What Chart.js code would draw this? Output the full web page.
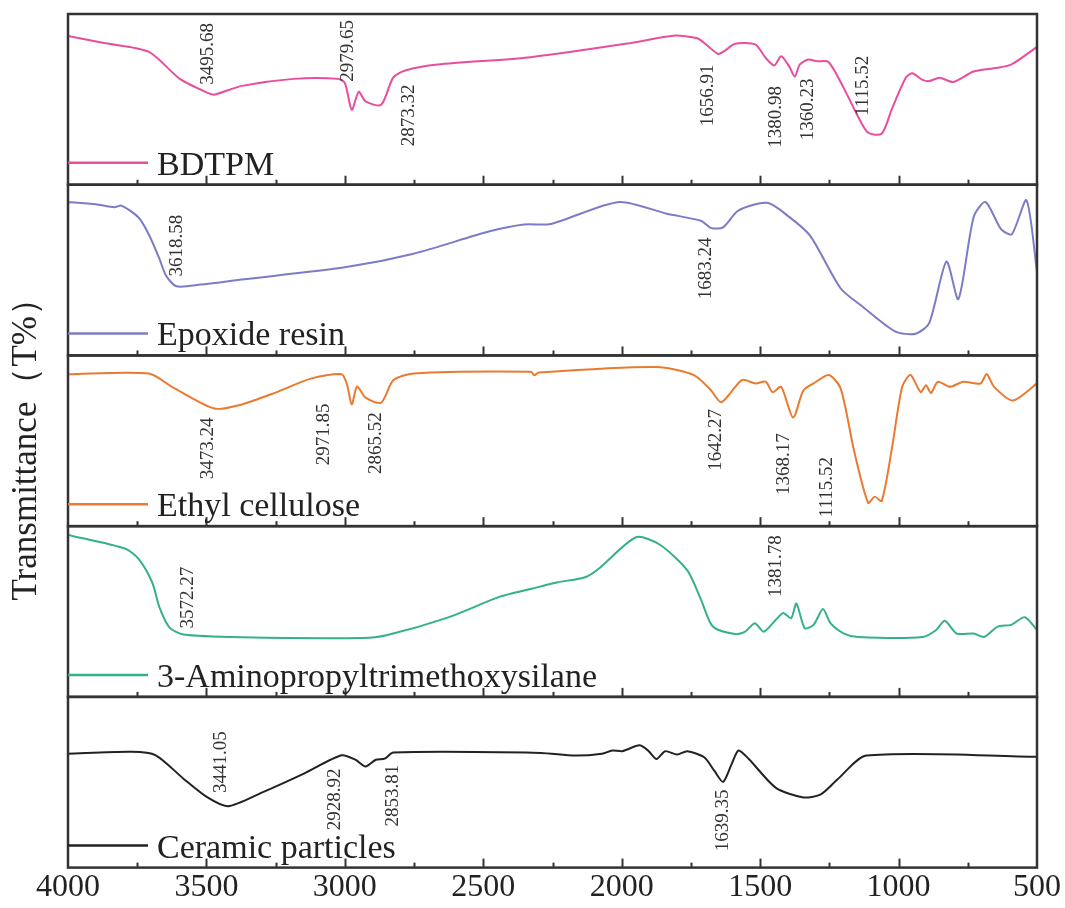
<!DOCTYPE html>
<html>
<head>
<meta charset="utf-8">
<script src="https://cdn.jsdelivr.net/npm/chart.js@4.4.1/dist/chart.umd.min.js"></script>
<style>
  html, body { margin: 0; padding: 0; background: #fff; }
  #wrap { width: 1065px; height: 908px; }
</style>
</head>
<body>
<div id="wrap"><canvas id="myChart"></canvas></div>
<script>
// spectra (wavenumber in cm-1, relative transmittance 0-100 in each panel)
const bdtpmWn = [4000, 3870, 3708, 3596, 3495, 3470, 3372, 3185, 3024, 3000, 2975, 2950, 2925, 2869, 2825, 2782, 2665, 2329, 1960, 1813, 1727, 1689, 1652, 1628, 1591, 1518, 1480, 1449, 1424, 1395, 1375, 1357, 1327, 1295, 1253, 1197, 1148, 1110, 1061, 1024, 975, 951, 913, 889, 852, 803, 729, 656, 594, 500];
const bdtpmT = [87.1, 83, 77.8, 62, 53.8, 52.8, 57.9, 62, 62, 59.6, 43.9, 54.4, 48.8, 46.8, 62.9, 66.9, 70.4, 74.7, 83.2, 87.3, 85.8, 81.3, 76.6, 78.4, 82.6, 82.2, 74.3, 69.9, 75.3, 69.3, 63.3, 70.3, 73.3, 72.3, 71.9, 56.3, 40.4, 30.4, 29.9, 44.4, 62.3, 65.3, 61.4, 60.7, 62.7, 60.2, 66.3, 68.2, 70.3, 80.7];

const epoxyWn = [4000, 3993, 3900, 3832, 3807, 3745, 3708, 3670, 3645, 3608, 3521, 3372, 3000, 2752, 2477, 2353, 2256, 2010, 1837, 1714, 1676, 1634, 1578, 1474, 1394, 1319, 1209, 1135, 1013, 938, 889, 827, 784, 729, 686, 630, 591, 538, 500];
const epoxyT = [89, 89.8, 88.5, 86.8, 87.8, 80.8, 70.8, 56.7, 46.5, 40.5, 41.5, 44.5, 51.6, 59.6, 72.7, 76.7, 77, 89.9, 83, 78.9, 74.6, 75, 85, 89.4, 81, 70, 39.2, 29.2, 14.1, 12.7, 19.1, 55, 33, 81, 89.9, 74, 71, 90.9, 49.1];

const ethylWn = [4000, 3708, 3621, 3471, 3372, 3248, 3123, 3012, 2993, 2975, 2956, 2925, 2869, 2825, 2752, 2328, 2316, 2300, 1874, 1739, 1677, 1640, 1566, 1517, 1480, 1455, 1424, 1381, 1344, 1307, 1252, 1209, 1160, 1110, 1086, 1061, 1024, 987, 957, 920, 901, 883, 858, 815, 766, 704, 682, 655, 587, 500];
const ethylT = [89, 89.4, 81.3, 68.9, 71.3, 78.4, 86.4, 89, 83.4, 71.3, 81.8, 75.3, 72.3, 85.4, 89.4, 90.4, 88.4, 90, 93.2, 88.5, 79.5, 72.6, 85.6, 83.6, 84.6, 78.5, 81.6, 63.6, 79.5, 83.6, 88.5, 80.6, 43.6, 13.7, 17.3, 14.7, 45.6, 81.6, 88.5, 78.5, 82.6, 78, 84.6, 81.6, 84.6, 83.6, 89.1, 81.6, 73.6, 83.6];

const aptmsWn = [4000, 3794, 3745, 3695, 3670, 3633, 3583, 3372, 2937, 2850, 2626, 2440, 2329, 2231, 2132, 2083, 1948, 1862, 1763, 1714, 1671, 1591, 1554, 1519, 1486, 1418, 1388, 1369, 1339, 1307, 1273, 1246, 1197, 1147, 913, 864, 833, 790, 729, 691, 642, 593, 544, 500];
const aptmsT = [94.9, 86.9, 80.8, 66.7, 52.6, 40.6, 36.5, 34.9, 34.5, 36.1, 46.6, 58.7, 63.2, 67.1, 70.1, 75.1, 93.5, 89.1, 74.1, 57.1, 41.2, 36.8, 38.2, 43.2, 38.2, 49.1, 46.1, 54.7, 40.2, 42.2, 51.5, 43.2, 37.1, 35.1, 35.1, 39.2, 44.6, 37.1, 37.1, 35.1, 41.2, 42.2, 46.7, 39.2];

const ceramicWn = [4000, 3770, 3683, 3583, 3496, 3422, 3298, 3148, 3012, 2962, 2925, 2888, 2856, 2825, 2293, 2170, 2071, 2034, 1998, 1936, 1905, 1874, 1843, 1800, 1763, 1702, 1665, 1634, 1603, 1578, 1541, 1443, 1344, 1283, 1221, 1116, 500];
const ceramicT = [66.7, 67.8, 65.8, 52.1, 41.1, 36, 44.1, 55.1, 65.8, 63.2, 59.2, 63.2, 63.8, 67.4, 67.2, 65.6, 66.7, 68.6, 68.2, 71.6, 68.6, 63.6, 68.2, 66.2, 68.2, 64.6, 56.6, 50.2, 60.6, 68.6, 63.6, 46.7, 41.1, 42.7, 51.6, 65.6, 65];

const names = ["BDTPM", "Epoxide resin", "Ethyl cellulose", "3-Aminopropyltrimethoxysilane", "Ceramic particles"];
const colors = ["#ea4d9c", "#7c7bc6", "#ea7a30", "#33b08c", "#222222"];
const wnList = [bdtpmWn, epoxyWn, ethylWn, aptmsWn, ceramicWn];
const tList = [bdtpmT, epoxyT, ethylT, aptmsT, ceramicT];

// peak labels: text, wavenumber and height of the label centre
const peakText = [
  ["3495.68", "2979.65", "2873.32", "1656.91", "1380.98", "1360.23", "1115.52"],
  ["3618.58", "1683.24"],
  ["3473.24", "2971.85", "2865.52", "1642.27", "1368.17", "1115.52"],
  ["3572.27", "1381.78"],
  ["3441.05", "2928.92", "2853.81", "1639.35"]
];
const peakWn = [
  [3495, 2990, 2770, 1689, 1443, 1326, 1129],
  [3608, 1695],
  [3496, 3074, 2888, 1658, 1412, 1258],
  [3565, 1443],
  [3447, 3037, 2825, 1634]
];
const peakT = [
  [76.6, 78.4, 40.6, 52.3, 39.8, 44.2, 57.9],
  [64.3, 51],
  [45.6, 53.8, 48.7, 50.6, 36.3, 22.8],
  [58.2, 76.6],
  [61.8, 40, 42.1, 27.7]
];

const xTicks = [4000, 3500, 3000, 2500, 2000, 1500, 1000, 500];

const serif = "'Liberation Serif', 'Times New Roman', serif";

// stacked y axes are laid out bottom-up, so the top panel gets y5
const axisOf = (i) => "y" + (5 - i);

const datasets = names.map((n, i) => ({
  label: n,
  data: wnList[i].map((w, j) => ({ x: w, y: tList[i][j] })),
  yAxisID: axisOf(i),
  borderColor: colors[i],
  borderWidth: 2,
  pointRadius: 0,
  tension: 0.25,
  fill: false
}));

const scales = {
  x: {
    type: "linear",
    reverse: true,
    min: 500,
    max: 4000,
    afterBuildTicks: (s) => { s.ticks = xTicks.map(v => ({ value: v })); },
    ticks: {
      font: { family: serif, size: 32 },
      color: "#222",
      padding: 1,
      maxRotation: 0,
      autoSkip: false,
      callback: (v) => String(v)
    },
    grid: { display: false, drawTicks: false },
    border: { display: false }
  }
};
for (let i = 1; i <= 5; i++) {
  scales["y" + i] = {
    type: "linear",
    position: "left",
    stack: "ftir",
    stackWeight: 1,
    min: 0,
    max: 100,
    ticks: { display: false },
    grid: { display: false, drawTicks: false },
    border: { display: false },
    title: {
      display: i === 3,
      text: "Transmittance（T%）",
      font: { family: serif, size: 35 },
      color: "#222",
      padding: { top: 1, bottom: 20 }
    }
  };
}

const panelPlugin = {
  id: "panels",
  afterDatasetsDraw(chart) {
    const ctx = chart.ctx;
    const xs = chart.scales.x;
    const area = chart.chartArea;
    for (let i = 0; i < 5; i++) {
      const ys = chart.scales[axisOf(i)];
      ctx.save();
      // frame
      ctx.strokeStyle = "#333";
      ctx.lineWidth = 2.5;
      ctx.strokeRect(area.left, ys.top, area.right - area.left, ys.bottom - ys.top);
      // inward ticks on the bottom edge
      ctx.lineWidth = 2;
      for (let w = 3750; w > 500; w -= 250) {
        const px = Math.round(xs.getPixelForValue(w)) + 0.5;
        const len = w % 500 === 0 ? 9 : 5;
        ctx.beginPath();
        ctx.moveTo(px, ys.bottom);
        ctx.lineTo(px, ys.bottom - len);
        ctx.stroke();
      }
      // legend entry
      ctx.strokeStyle = colors[i];
      ctx.lineWidth = 2.5;
      ctx.beginPath();
      ctx.moveTo(area.left, ys.bottom - 22);
      ctx.lineTo(area.left + 80, ys.bottom - 22);
      ctx.stroke();
      ctx.fillStyle = "#222";
      ctx.font = "34px " + serif;
      ctx.textAlign = "left";
      ctx.textBaseline = "alphabetic";
      ctx.fillText(names[i], area.left + 89, ys.bottom - 10);
      // peak labels
      ctx.font = "19px " + serif;
      ctx.fillStyle = "#333";
      ctx.textAlign = "center";
      ctx.textBaseline = "middle";
      peakText[i].forEach((t, k) => {
        ctx.save();
        ctx.translate(xs.getPixelForValue(peakWn[i][k]), ys.getPixelForValue(peakT[i][k]));
        ctx.rotate(-Math.PI / 2);
        ctx.fillText(t, 0, 0);
        ctx.restore();
      });
      ctx.restore();
    }
  }
};

new Chart(document.getElementById("myChart"), {
  type: "line",
  data: { datasets: datasets },
  options: {
    responsive: true,
    maintainAspectRatio: false,
    animation: false,
    devicePixelRatio: 1,
    layout: { padding: { left: 5, right: 28, top: 14, bottom: 0 } },
    plugins: { legend: { display: false }, tooltip: { enabled: false } },
    scales: scales
  },
  plugins: [panelPlugin]
});
</script>
</body>
</html>
